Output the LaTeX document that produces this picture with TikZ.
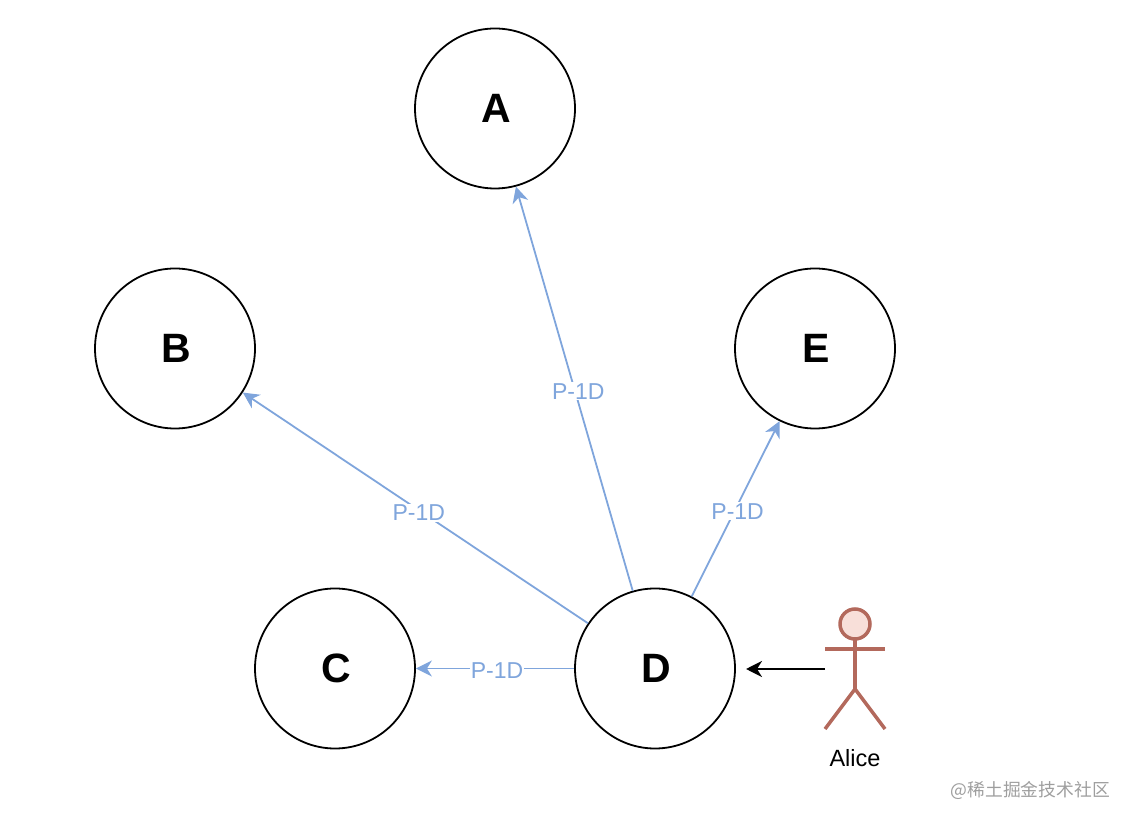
\documentclass[tikz,border=0pt]{standalone}
\usepackage{fontspec}
\setmainfont{Liberation Sans}
\newfontfamily\cjkfont{Noto Sans CJK SC}
\usetikzlibrary{positioning, arrows.meta}
\definecolor{linkblue}{HTML}{7FA5DC}
\definecolor{actorred}{HTML}{B3695C}
\definecolor{actorfill}{HTML}{F8DFD9}

\begin{document}
\begin{tikzpicture}[
    x=1pt, y=1pt,
    >={Stealth[length=16pt, width=16pt, inset=5pt]},
    on grid,
    % Styles
    peer/.style={draw=black, circle, line width=1.8pt, minimum size=160pt, inner sep=0pt, execute at begin node={\hspace*{3pt}}, font=\fontsize{41}{45}\selectfont\bfseries},
    link/.style={->, line width=1.8pt, draw=linkblue},
    linklabel/.style={fill=white, inner sep=1pt, text=linkblue, yshift=-2.5pt, font=\fontsize{23}{26}\selectfont},
    limb/.style={draw=actorred, line width=3.5pt}
    ]
    \useasboundingbox (0,0) rectangle (1132,822);

    % 1. Peers
    \node (D) [peer] at (655,153.5) {D};
    \node (C) [peer, left=320pt of D] {C};
    \node (E) [peer, above right=320pt and 160pt of D] {E};
    \node (B) [peer, left=640pt of E] {B};
    \node (A) [peer, above left=240pt and 320pt of E] {A};

    % 2. Links out of D
    \draw[link] (D.106.5) -- (A.-75) node[linklabel, pos=0.5, xshift=4pt] {P-1D};
    \draw[link] (D.146) -- (B.-33.5) node[linklabel, pos=0.49] {P-1D};
    \draw[link] (D.63) -- (E.-116) node[linklabel, pos=0.5, xshift=2pt] {P-1D};
    \draw[link] (D.west) -- (C.east) node[linklabel, pos=0.5, xshift=2pt] {P-1D};

    % 3. Alice
    \node (head) [circle, draw=actorred, fill=actorfill, line width=3.5pt, minimum size=30pt, inner sep=0pt, right=200pt of D, yshift=44.5pt] {};
    \coordinate (neck) at ([yshift=-15pt]head.center);
    \coordinate (hip) at ([yshift=-65pt]head.center);
    \coordinate (armL) at ([xshift=-30pt, yshift=-25pt]head.center);
    \coordinate (armR) at ([xshift=30pt, yshift=-25pt]head.center);
    \coordinate (footL) at ([xshift=-30pt, yshift=-105pt]head.center);
    \coordinate (footR) at ([xshift=30pt, yshift=-105pt]head.center);
    \draw[limb] (neck) -- (hip);
    \draw[limb] (armL) -- (armR);
    \draw[limb] (footL) -- (hip) -- (footR);
    \node (alice) [below=134pt of head, font=\fontsize{23.5}{26}\selectfont] {Alice};

    % Arrow from Alice towards D, stopping short of the circle
    \coordinate (hand) at ([xshift=-30pt, yshift=-45pt]head.center);
    \coordinate (gap) at ([xshift=-79pt]hand);
    \draw[->, line width=1.8pt, draw=black] (hand) -- (gap);

    % Site mark
    \node (mark) [anchor=east, text=black!38, font=\fontsize{17.8}{20}\selectfont\cjkfont] at (1113.5,32) {@稀土掘金技术社区};
\end{tikzpicture}
\end{document}
